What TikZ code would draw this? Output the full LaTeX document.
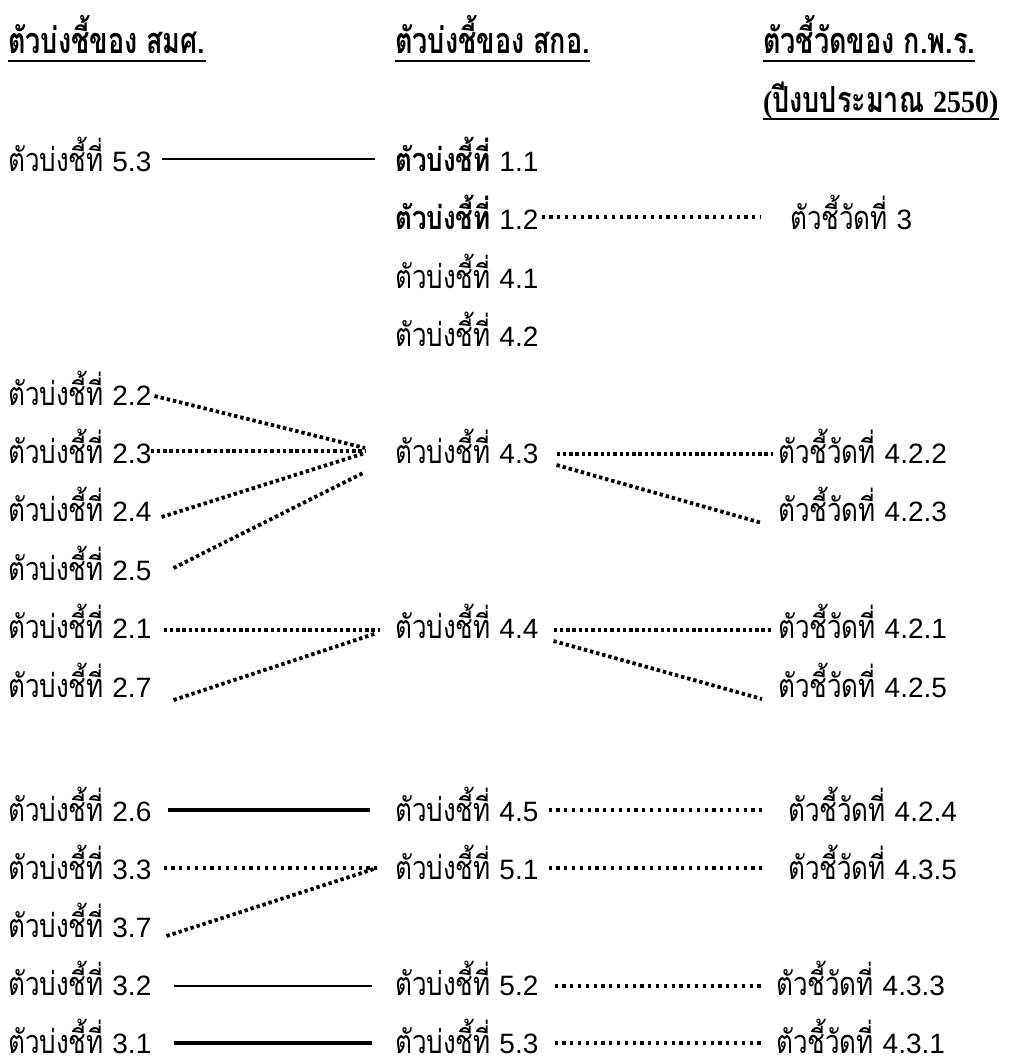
\documentclass[tikz,border=0pt]{standalone}
\usepackage{fontspec}
\usetikzlibrary{calc}
\newfontfamily\thai[Script=Thai,FakeStretch=0.80]{Loma}
\newfontfamily\thaihead[Script=Thai,FakeStretch=0.75]{Loma}
\newfontfamily\hlat[FakeStretch=0.9]{Liberation Serif}
\newfontfamily\numf{Liberation Sans}
\newcommand\nm[1]{{\numf\mdseries\fontsize{28}{28}\selectfont #1}}
\newcommand\kbt{ตัวบ่งชี้ที่}
\newcommand\kcw{ตัวชี้วัดที่}
\tikzset{
  lbl/.style={anchor=base west,inner sep=0pt,font=\thai\fontsize{32.5}{33}\selectfont},
  hdr/.style={anchor=base west,inner sep=0pt,font=\thaihead\bfseries\fontsize{36}{36}\selectfont},
  uline/.style={line width=2pt},
  dotA/.style={line width=3.8pt,dash pattern=on 3.4pt off 2.9pt},
  dotB/.style={line width=3.4pt,dash pattern=on 3.2pt off 4.6pt},
  solthin/.style={line width=2pt},
  solthick/.style={line width=4.3pt}
}
\begin{document}
\begin{tikzpicture}[x=1pt,y=-1pt]
\useasboundingbox (0,0) rectangle (1014,1057);
% headers
\node[hdr] (h1) at (8,54) {ตัวบ่งชี้ของ สมศ.};
\node[hdr] (h2) at (395,54) {ตัวบ่งชี้ของ สกอ.};
\node[hdr] (h3) at (763,54) {ตัวชี้วัดของ ก.พ.ร.};
\node[hdr] (h4) at (763,112) {{\hlat\fontsize{31}{31}\selectfont(}ปีงบประมาณ {\hlat\fontsize{31}{31}\selectfont 2550)}};
\foreach \h in {h1,h2,h3,h4}
  \draw[uline] ($(\h.base west)+(0,7)$) -- ($(\h.base east)+(0,7)$);
% left column
\node[lbl] (a53) at (8,171) {\kbt{} \nm{5.3}};
\node[lbl] (a22) at (8,405) {\kbt{} \nm{2.2}};
\node[lbl] (a23) at (8,463) {\kbt{} \nm{2.3}};
\node[lbl] (a24) at (8,521) {\kbt{} \nm{2.4}};
\node[lbl] (a25) at (8,580) {\kbt{} \nm{2.5}};
\node[lbl] (a21) at (8,638) {\kbt{} \nm{2.1}};
\node[lbl] (a27) at (8,697) {\kbt{} \nm{2.7}};
\node[lbl] (a26) at (8,821) {\kbt{} \nm{2.6}};
\node[lbl] (a33) at (8,879) {\kbt{} \nm{3.3}};
\node[lbl] (a37) at (8,937) {\kbt{} \nm{3.7}};
\node[lbl] (a32) at (8,995) {\kbt{} \nm{3.2}};
\node[lbl] (a31) at (8,1053) {\kbt{} \nm{3.1}};
% middle column
\node[lbl] (b11) at (395,171) {{\bfseries\kbt}{} \nm{1.1}};
\node[lbl] (b12) at (395,229) {{\bfseries\kbt}{} \nm{1.2}};
\node[lbl] (b41) at (395,288) {\kbt{} \nm{4.1}};
\node[lbl] (b42) at (395,346) {\kbt{} \nm{4.2}};
\node[lbl] (b43) at (395,463) {\kbt{} \nm{4.3}};
\node[lbl] (b44) at (395,638) {\kbt{} \nm{4.4}};
\node[lbl] (b45) at (395,821) {\kbt{} \nm{4.5}};
\node[lbl] (b51) at (395,879) {\kbt{} \nm{5.1}};
\node[lbl] (b52) at (395,995) {\kbt{} \nm{5.2}};
\node[lbl] (b53) at (395,1053) {\kbt{} \nm{5.3}};
% right column
\node[lbl] (c3) at (790,229) {\kcw{} \nm{3}};
\node[lbl] (c422) at (778,463) {\kcw{} \nm{4.2.2}};
\node[lbl] (c423) at (778,521) {\kcw{} \nm{4.2.3}};
\node[lbl] (c421) at (778,638) {\kcw{} \nm{4.2.1}};
\node[lbl] (c425) at (778,697) {\kcw{} \nm{4.2.5}};
\node[lbl] (c424) at (788,821) {\kcw{} \nm{4.2.4}};
\node[lbl] (c435) at (788,879) {\kcw{} \nm{4.3.5}};
\node[lbl] (c433) at (776,995) {\kcw{} \nm{4.3.3}};
\node[lbl] (c431) at (776,1053) {\kcw{} \nm{4.3.1}};
% connectors
\draw[solthin] ($(a53.base east)+(10,-12)$) -- ($(b11.base west)+(-20,-12)$);
\draw[dotB] ($(b12.base east)+(3,-12)$) -- ($(c3.base west)+(-30,-12)$);
\draw[dotA] ($(a22.base east)+(3,-9)$) -- ($(b43.base west)+(-30,-15)$);
\draw[dotA] ($(a23.base east)+(-1,-12)$) -- ($(b43.base west)+(-30,-12)$);
\draw[dotA] ($(a24.base east)+(10,-4)$) -- ($(b43.base west)+(-30,-10)$);
\draw[dotA] ($(a25.base east)+(22,-12)$) -- ($(b43.base west)+(-30,9)$);
\draw[dotA] ($(a21.base east)+(12,-8)$) -- ($(b44.base west)+(-15,-8)$);
\draw[dotA] ($(a27.base east)+(22,3)$) -- ($(b44.base west)+(-18,-5)$);
\draw[dotA] ($(b43.base east)+(18,-9)$) -- ($(c422.base west)+(-5,-9)$);
\draw[dotA] ($(b43.base east)+(18,2)$) -- ($(c423.base west)+(-16,2)$);
\draw[dotA] ($(b44.base east)+(15,-8)$) -- ($(c421.base west)+(-5,-8)$);
\draw[dotA] ($(b44.base east)+(15,3)$) -- ($(c425.base west)+(-16,2)$);
\draw[solthick] ($(a26.base east)+(16,-11)$) -- ($(b45.base west)+(-25,-11)$);
\draw[dotB] ($(b45.base east)+(10,-11)$) -- ($(c424.base west)+(-22,-11)$);
\draw[dotB] ($(a33.base east)+(12,-11)$) -- ($(b51.base west)+(-18,-11)$);
\draw[dotA] ($(a37.base east)+(15,-1)$) -- ($(b51.base west)+(-18,-11)$);
\draw[dotB] ($(b51.base east)+(10,-11)$) -- ($(c435.base west)+(-22,-11)$);
\draw[solthin] ($(a32.base east)+(22,-9)$) -- ($(b52.base west)+(-23,-9)$);
\draw[dotB] ($(b52.base east)+(16,-9)$) -- ($(c433.base west)+(-13,-9)$);
\draw[solthick] ($(a31.base east)+(22,-10)$) -- ($(b53.base west)+(-23,-10)$);
\draw[dotB] ($(b53.base east)+(16,-10)$) -- ($(c431.base west)+(-13,-10)$);
\end{tikzpicture}
\end{document}
